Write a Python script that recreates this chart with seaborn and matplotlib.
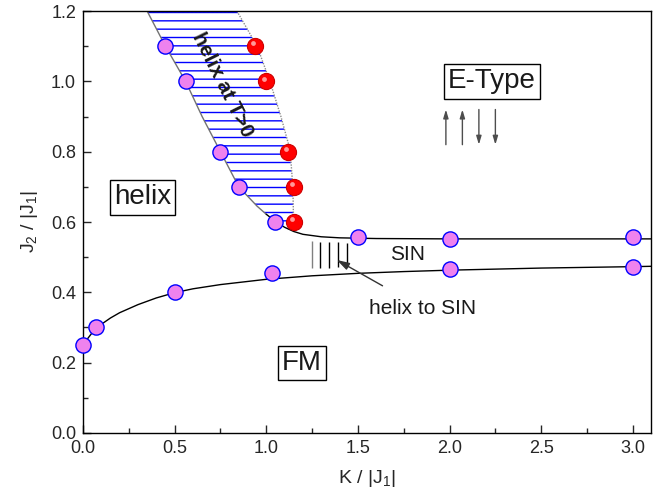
import numpy as np
import pandas as pd
import matplotlib
matplotlib.use("Agg")
import matplotlib.pyplot as plt
import seaborn as sns

# ---- data ----
fm_k = [0.0, 0.07, 0.50, 1.03, 1.50, 2.00, 2.00, 3.00, 3.00]
fm_j = [0.25, 0.30, 0.40, 0.455, 0.557, 0.552, 0.466, 0.557, 0.472]
helix_k = [0.45, 0.56, 0.75, 0.85, 1.05]
helix_j = [1.10, 1.00, 0.80, 0.70, 0.60]
red_k = [0.94, 1.00, 1.12, 1.15, 1.15]
red_j = [1.10, 1.00, 0.80, 0.70, 0.60]

# guide curves
low_k = [0.0, 0.025, 0.05, 0.075, 0.10, 0.15, 0.20, 0.30, 0.40, 0.50, 0.60, 0.75, 0.90,
         1.00, 1.25, 1.50, 1.75, 2.00, 2.50, 3.00, 3.10]
low_j = [0.245, 0.268, 0.285, 0.298, 0.309, 0.327, 0.342, 0.365, 0.384, 0.399, 0.410, 0.422,
         0.431, 0.437, 0.447, 0.454, 0.459, 0.463, 0.469, 0.473, 0.474]
up_k = [1.00, 1.05, 1.10, 1.15, 1.20, 1.30, 1.40, 1.60, 2.00, 2.50, 3.10]
up_j = [0.622, 0.602, 0.585, 0.573, 0.565, 0.558, 0.555, 0.553, 0.552, 0.552, 0.552]
hl_left_k = [0.35, 0.45, 0.56, 0.65, 0.75, 0.85, 0.95, 1.00]
hl_left_j = [1.20, 1.10, 1.00, 0.90, 0.80, 0.70, 0.645, 0.622]
hl_right_k = [0.84, 0.95, 1.02, 1.08, 1.13, 1.145, 1.15]
hl_right_j = [1.20, 1.10, 1.00, 0.90, 0.805, 0.70, 0.575]
hs_k = [1.247, 1.293, 1.344, 1.393, 1.439]
hs_lo = [0.468, 0.469, 0.470, 0.471, 0.472]
hs_hi = [0.545, 0.544, 0.543, 0.542, 0.541]
spin_k = [1.98, 2.07, 2.16, 2.25]
spin_dir = [1, 1, -1, -1]

sns.set_style("ticks")
plt.rcParams['font.family'] = ['Liberation Sans', 'DejaVu Sans']
plt.rcParams['mathtext.fontset'] = 'custom'
plt.rcParams['mathtext.rm'] = 'Liberation Sans'
plt.rcParams['mathtext.it'] = 'Liberation Sans'

fig = plt.figure(figsize=(6.72, 5.04), dpi=100)
ax = fig.add_axes([0.1235, 0.141, 0.8455, 0.837])

# hatched helix-at-T>0 region
poly_k = list(hl_left_k) + list(up_k[1:4]) + list(hl_right_k[::-1])
poly_j = list(hl_left_j) + list(up_j[1:4]) + list(hl_right_j[::-1])
ax.fill(poly_k, poly_j, facecolor='white', edgecolor='blue', hatch='--', linewidth=0, zorder=1)

# boundaries
sns.lineplot(x=hl_left_k, y=hl_left_j, sort=False, color='0.45', lw=1.0, ax=ax, zorder=2)
sns.lineplot(x=hl_right_k, y=hl_right_j, sort=False, color='0.55', lw=1.0, ls=(0, (1, 1)), ax=ax, zorder=2)
ax.plot([0.35, 0.84], [1.2, 1.2], color='0.6', lw=1.5, ls=(0, (1, 1)), zorder=2)
sns.lineplot(x=low_k, y=low_j, sort=False, color='black', lw=1.0, ax=ax, zorder=2)
sns.lineplot(x=up_k, y=up_j, sort=False, color='black', lw=1.0, ax=ax, zorder=2)

# helix-to-SIN lines
ax.vlines(hs_k, hs_lo, hs_hi, colors=['0.5', 'black', 'black', 'black', 'black'], lw=1.0, zorder=2)

# points
df_p = pd.DataFrame({'k': fm_k + helix_k, 'j': fm_j + helix_j})
sns.scatterplot(data=df_p, x='k', y='j', s=120, color='violet', edgecolor='blue',
                linewidth=1.0, ax=ax, zorder=4, clip_on=False)
df_r = pd.DataFrame({'k': red_k, 'j': red_j})
sns.scatterplot(data=df_r, x='k', y='j', s=135, color='red', edgecolor='#cc0000',
                linewidth=0.8, ax=ax, zorder=4)
ax.scatter([k - 0.012 for k in red_k], [j + 0.008 for j in red_j], s=12, color='#ff9999',
           linewidths=0, zorder=5)

# spin arrows (E-Type)
for k, d in zip(spin_k, spin_dir):
    y0, y1 = (0.82, 0.92) if d > 0 else (0.92, 0.82)
    ax.annotate('', xy=(k, y1), xytext=(k, y0),
                arrowprops=dict(arrowstyle='-|>,head_length=0.5,head_width=0.15',
                                color='0.3', lw=1.0, shrinkA=0, shrinkB=0))

# texts
box = dict(boxstyle='square,pad=0.15', facecolor='white', edgecolor='black', lw=1.0)
ax.text(0.325, 0.67, 'helix', fontsize=20, ha='center', va='center', bbox=box, zorder=6, color='0.1')
ax.text(2.23, 1.00, 'E-Type', fontsize=20, ha='center', va='center', bbox=box, zorder=6, color='0.1')
ax.text(1.193, 0.198, 'FM', fontsize=20, ha='center', va='center', bbox=box, zorder=6, color='0.1')
ax.text(1.77, 0.508, 'SIN', fontsize=15, ha='center', va='center', color='0.1')
ax.text(0.76, 0.99, 'helix at T>0', fontsize=15, ha='center', va='center',
        rotation=-63.5, fontweight='bold', color='0.1', zorder=6)
ax.annotate('helix to SIN', xy=(1.385, 0.492), xytext=(1.85, 0.355), fontsize=15,
            ha='center', va='center', color='0.1',
            arrowprops=dict(arrowstyle='-|>,head_length=0.5,head_width=0.15', color='0.2',
                            lw=1.0, shrinkA=14, shrinkB=0))

ax.set_xlim(0, 3.1)
ax.set_ylim(0, 1.2)
ax.set_xticks(np.arange(0, 3.01, 0.5))
ax.set_xticks(np.arange(0.25, 3.1, 0.5), minor=True)
ax.set_yticks(np.arange(0, 1.21, 0.2))
ax.set_yticks(np.arange(0.1, 1.2, 0.2), minor=True)
ax.xaxis.set_major_formatter(matplotlib.ticker.FormatStrFormatter('%.1f'))
ax.yaxis.set_major_formatter(matplotlib.ticker.FormatStrFormatter('%.1f'))
ax.tick_params(which='both', direction='in', top=False, right=False, labelsize=13,
               colors='0.15', width=1.0, pad=5)
ax.tick_params(which='major', length=6)
ax.tick_params(which='minor', length=3.5)
for s in ax.spines.values():
    s.set_visible(True)
    s.set_color('black')
    s.set_linewidth(1.0)
ax.set_xlabel('K / |J$_1$|', fontsize=14, color='0.15', labelpad=8)
ax.set_ylabel('J$_2$ / |J$_1$|', fontsize=14, color='0.15', labelpad=8)

fig.savefig('out.png', dpi=100)
